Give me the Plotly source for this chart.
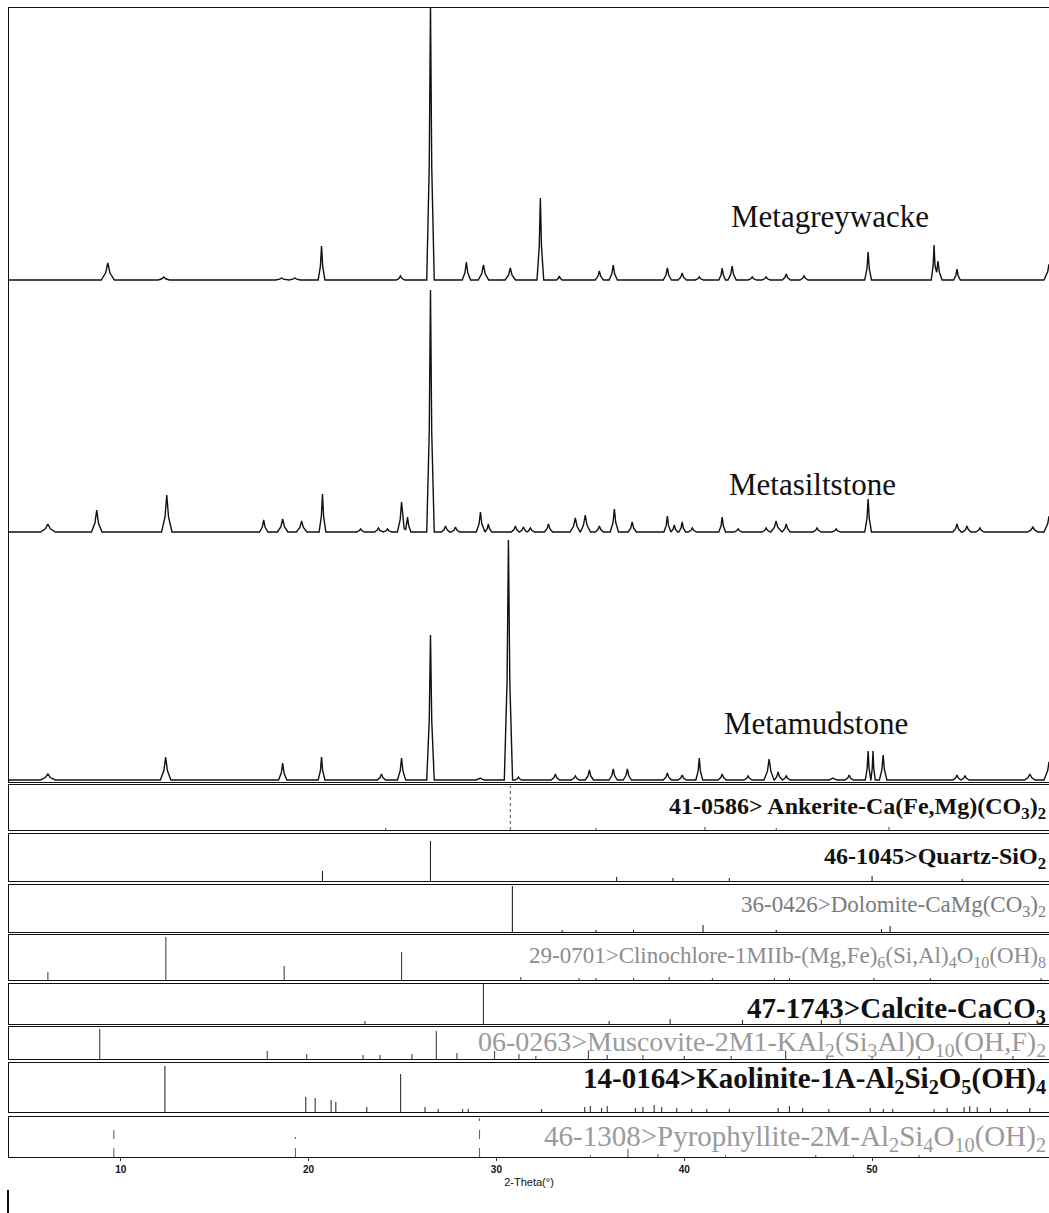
import plotly.graph_objects as go
from plotly.subplots import make_subplots

# ---------------- data ----------------
X_RANGE = [4.05, 59.42]
TICKS = [10, 20, 30, 40, 50]

# sample patterns: peak 2-theta, intensity (a.u.), half width (deg)
grey_pos = [9.31, 12.29, 18.56, 19.26, 20.69, 24.89, 26.49, 28.40, 29.31, 30.74, 32.34, 33.35,
            35.48, 36.22, 39.10, 39.89, 40.80, 42.02, 42.55, 43.62, 44.36, 45.43, 46.38, 49.79,
            53.30, 53.51, 54.52, 59.45]
grey_int = [17, 3, 2, 2, 34, 4, 276, 18, 15, 12, 82, 4,
            9, 15, 12, 7, 3, 12, 14, 3, 3, 6, 4, 28,
            35, 19, 11, 20]
grey_hw = [0.35, 0.3, 0.3, 0.3, 0.18, 0.22, 0.2, 0.22, 0.28, 0.28, 0.18, 0.15,
           0.22, 0.22, 0.22, 0.22, 0.22, 0.18, 0.22, 0.22, 0.22, 0.22, 0.22, 0.18,
           0.15, 0.22, 0.18, 0.3]

silt_pos = [6.12, 8.72, 12.45, 17.61, 18.62, 19.63, 20.74, 22.77, 23.72, 24.20, 24.95, 25.27,
            26.49, 27.29, 27.82, 29.15, 29.57, 31.01, 31.44, 31.81, 32.77, 34.20, 34.73, 35.48,
            36.28, 37.23, 39.10, 39.47, 39.89, 40.43, 42.02, 42.87, 44.36, 44.89, 45.43, 47.07,
            48.09, 49.79, 54.52, 55.05, 55.74, 58.56, 59.45]
silt_int = [8, 22, 37, 12, 13, 11, 38, 3, 4, 3, 30, 15,
            242, 6, 5, 20, 8, 6, 5, 4, 8, 14, 17, 6,
            23, 10, 16, 7, 10, 4, 15, 3, 4, 11, 8, 4,
            3, 33, 8, 6, 4, 5, 20]
silt_hw = [0.4, 0.28, 0.28, 0.22, 0.28, 0.28, 0.18, 0.22, 0.22, 0.22, 0.22, 0.18,
           0.2, 0.22, 0.22, 0.22, 0.18, 0.22, 0.22, 0.22, 0.22, 0.28, 0.28, 0.22,
           0.22, 0.22, 0.18, 0.18, 0.18, 0.22, 0.18, 0.22, 0.22, 0.28, 0.22, 0.22,
           0.22, 0.18, 0.22, 0.22, 0.22, 0.28, 0.3]

mud_pos = [6.12, 12.39, 18.62, 20.69, 23.88, 24.95, 26.49, 29.15, 30.64, 31.17, 33.14, 34.20,
           34.95, 36.22, 36.97, 39.10, 39.89, 40.80, 42.02, 43.40, 44.52, 45.00, 45.43, 47.93,
           48.78, 49.79, 50.05, 50.59, 54.52, 54.95, 58.40, 59.45]
mud_int = [6, 23, 17, 23, 6, 22, 145, 2, 240, 3, 6, 4,
           10, 11, 11, 7, 5, 22, 6, 4, 21, 8, 4, 2,
           5, 29, 29, 25, 5, 4, 6, 23]
mud_hw = [0.4, 0.28, 0.22, 0.18, 0.22, 0.22, 0.2, 0.22, 0.22, 0.18, 0.22, 0.22,
          0.22, 0.22, 0.22, 0.22, 0.22, 0.18, 0.22, 0.22, 0.28, 0.22, 0.22, 0.22,
          0.22, 0.15, 0.12, 0.2, 0.22, 0.22, 0.28, 0.3]

sample_names = ["Metagreywacke", "Metasiltstone", "Metamudstone"]
sample_offsets = [502, 250, 2]

# reference stick patterns: 2-theta and stick height
ank_pos = [24.1, 30.74, 35.3, 41.1, 44.9, 50.9]
ank_h = [2, 44, 2, 3, 2, 3]
qtz_pos = [20.74, 26.49, 36.4, 39.4, 42.4, 50.0, 54.8]
qtz_h = [10, 40, 4, 3, 3, 5, 2]
dol_pos = [33.5, 30.85, 35.3, 37.3, 41.0, 44.9, 50.5, 50.96]
dol_h = [2, 46, 2, 2, 7, 2, 3, 6]
cli_pos = [6.12, 12.40, 18.70, 24.95, 31.3, 34.4, 35.3, 37.3, 39.2, 41.5, 44.8, 45.6, 50.1, 53.1, 59.0]
cli_h = [8, 43, 14, 28, 3, 2, 2, 2, 3, 2, 2, 2, 2, 2, 2]
cal_pos = [23.0, 29.31, 36.0, 39.25, 43.1, 47.3, 48.3, 57.3]
cal_h = [3, 40, 3, 5, 4, 4, 5, 2]
mus_pos = [8.88, 17.8, 19.9, 22.9, 23.8, 25.5, 26.8, 27.9, 29.9, 31.2, 32.1, 34.9, 35.9,
           37.8, 40.0, 42.5, 45.4, 47.6, 50.0, 52.5, 55.8, 57.5]
mus_h = [30, 8, 5, 4, 4, 5, 28, 6, 8, 5, 3, 8, 4,
         4, 3, 3, 8, 3, 3, 3, 5, 3]
kao_pos = [12.35, 19.85, 20.35, 21.2, 21.45, 23.1, 24.9, 26.2, 26.9, 28.2, 28.5, 32.4, 34.7,
           35.0, 35.6, 35.9, 37.4, 37.8, 38.4, 38.8, 39.6, 40.4, 41.2, 42.4, 45.0, 45.6,
           46.3, 47.7, 49.9, 50.6, 51.1, 53.3, 54.0, 54.9, 55.2, 55.6, 56.3, 57.2, 58.4]
kao_h = [46, 15, 14, 12, 10, 5, 38, 5, 3, 3, 3, 3, 5,
         6, 4, 6, 4, 5, 7, 5, 4, 3, 3, 3, 4, 6,
         4, 3, 4, 3, 3, 3, 4, 5, 6, 5, 4, 3, 4]
pyr_pos = [9.63, 19.30, 29.10, 35.0, 37.0, 38.6, 42.2, 47.0, 49.0, 52.5]
pyr_h = [29, 20, 39, 2, 8, 3, 2, 2, 2, 2]

ref_labels = [
    "41-0586> Ankerite-Ca(Fe,Mg)(CO<sub>3</sub>)<sub>2</sub>",
    "46-1045>Quartz-SiO<sub>2</sub>",
    "36-0426>Dolomite-CaMg(CO<sub>3</sub>)<sub>2</sub>",
    "29-0701>Clinochlore-1MIIb-(Mg,Fe)<sub>6</sub>(Si,Al)<sub>4</sub>O<sub>10</sub>(OH)<sub>8</sub>",
    "47-1743>Calcite-CaCO<sub>3</sub>",
    "06-0263>Muscovite-2M1-KAl<sub>2</sub>(Si<sub>3</sub>Al)O<sub>10</sub>(OH,F)<sub>2</sub>",
    "14-0164>Kaolinite-1A-Al<sub>2</sub>Si<sub>2</sub>O<sub>5</sub>(OH)<sub>4</sub>",
    "46-1308>Pyrophyllite-2M-Al<sub>2</sub>Si<sub>4</sub>O<sub>10</sub>(OH)<sub>2</sub>",
]
ref_pos = [ank_pos, qtz_pos, dol_pos, cli_pos, cal_pos, mus_pos, kao_pos, pyr_pos]
ref_h = [ank_h, qtz_h, dol_h, cli_h, cal_h, mus_h, kao_h, pyr_h]

# ---------------- layout geometry (pixels) ----------------
W, H = 1049, 1213
T, B, L, R = 8, 56, 9, 0
PLOT_BOTTOM = H - B
PLOT_H = H - T - B
# (top px, bottom px) of each panel
panels_px = [(8, 782), (785, 830), (834, 881), (885, 932), (935, 980),
             (984, 1024), (1027, 1059), (1063, 1112), (1117, 1157)]
label_y_px = [808, 858, 906, 957, 1010, 1043, 1080, 1138]
label_style = [
    dict(size=24, color="#111", weight="bold"),
    dict(size=24, color="#111", weight="bold"),
    dict(size=23, color="#7a7a7a", weight="normal"),
    dict(size=23, color="#8c8c8c", weight="normal"),
    dict(size=29, color="#111", weight="bold"),
    dict(size=28, color="#9a9a9a", weight="normal"),
    dict(size=29, color="#111", weight="bold"),
    dict(size=29, color="#9a9a9a", weight="normal"),
]
ref_dash = ["dot", "solid", "solid", "solid", "solid", "solid", "solid", "dash"]
ref_color = ["#555", "#222", "#222", "#444", "#333", "#444", "#333", "#666"]
sample_label_px = [(729, 217), (727, 484), (722, 724)]


def ypaper(px):
    return (PLOT_BOTTOM - px) / PLOT_H


def xpaper(px):
    return (px - L) / (W - L - R)


def profile(pos, inten, hw, offset):
    xs = {X_RANGE[0], X_RANGE[1]}
    for p, w in zip(pos, hw):
        xs.update([p - w, p - w / 3, p, p + w / 3, p + w])
    xs = sorted(x for x in xs if X_RANGE[0] <= x <= X_RANGE[1])
    ys = []
    for x in xs:
        v = 0.0
        for p, h, w in zip(pos, inten, hw):
            d = abs(x - p)
            if d < w:
                # sharp top, wider skirt
                v = max(v, h * (1 - d / w) ** 2.2)
        ys.append(offset + v)
    return xs, ys


n = len(panels_px)
fig = make_subplots(rows=n, cols=1, shared_xaxes=True, vertical_spacing=0.002)

samples = [(grey_pos, grey_int, grey_hw), (silt_pos, silt_int, silt_hw), (mud_pos, mud_int, mud_hw)]
for (pos, inten, hw), off, name in zip(samples, sample_offsets, sample_names):
    xs, ys = profile(pos, inten, hw, off)
    fig.add_trace(go.Scatter(x=xs, y=ys, mode="lines", name=name,
                             line=dict(color="#111", width=1.4), showlegend=False),
                  row=1, col=1)

for i, (pos, hs) in enumerate(zip(ref_pos, ref_h)):
    xs, ys = [], []
    for p, h in zip(pos, hs):
        xs += [p, p, None]
        ys += [0, h, None]
    fig.add_trace(go.Scatter(x=xs, y=ys, mode="lines", showlegend=False,
                             line=dict(color=ref_color[i], width=1.1, dash=ref_dash[i])),
                  row=i + 2, col=1)

for i, (top, bot) in enumerate(panels_px):
    key = "" if i == 0 else str(i + 1)
    ph = bot - top
    fig.layout["yaxis" + key].update(
        domain=[ypaper(bot), ypaper(top)], range=[0, 774 if i == 0 else ph],
        showticklabels=False, ticks="", showgrid=False, zeroline=False,
        showline=True, linecolor="#111", linewidth=1.4, mirror=False, fixedrange=True)
    last = i == n - 1
    fig.layout["xaxis" + key].update(
        range=X_RANGE, showgrid=False, zeroline=False, showline=True, mirror=True,
        linecolor="#111", linewidth=1.2,
        tickvals=TICKS if last else [], ticks="outside" if last else "", ticklen=3,
        tickcolor="#333", showticklabels=last,
        tickfont=dict(family="Liberation Sans", size=10, color="#111", weight="bold"))

fig.layout["xaxis" + str(n)].update(
    title=dict(text="2-Theta(°)", standoff=4,
               font=dict(family="Liberation Sans", size=11, color="#111")))

annotations = []
for (px, py), name in zip(sample_label_px, sample_names):
    annotations.append(dict(text=name, x=xpaper(px), y=ypaper(py), xref="paper", yref="paper",
                            xanchor="left", yanchor="middle", showarrow=False,
                            font=dict(family="Liberation Serif", size=31, color="#111")))
for txt, py, st in zip(ref_labels, label_y_px, label_style):
    annotations.append(dict(text=txt, x=0.999, y=ypaper(py), xref="paper", yref="paper",
                            xanchor="right", yanchor="middle", showarrow=False,
                            font=dict(family="Liberation Serif", **st)))
fig.update_layout(annotations=annotations)

# small vertical mark at bottom-left of the page
fig.add_shape(type="line", xref="paper", yref="paper", x0=xpaper(8), x1=xpaper(8),
              y0=ypaper(1190), y1=ypaper(1213), line=dict(color="#111", width=2))

fig.update_layout(width=W, height=H, margin=dict(l=L, r=R, t=T, b=B),
                  paper_bgcolor="white", plot_bgcolor="white")

fig.write_html("out.html", config={"displayModeBar": False},
               post_script="document.body.style.margin='0px';")
